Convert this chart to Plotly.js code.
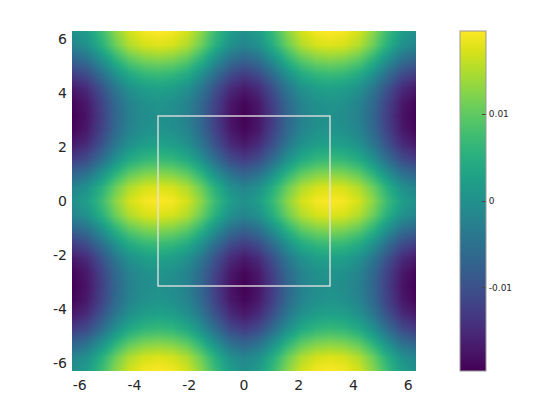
<!DOCTYPE html>
<html>
<head>
<meta charset="utf-8">
<script src="https://cdn.plot.ly/plotly-3.0.1.min.js"></script>
<style>
  html, body { margin: 0; padding: 0; background: #fff; }
</style>
</head>
<body>
<div id="plot" style="width:556px;height:417px;"></div>
<script>
// grid nodes, every pi/6 from -2pi to 2pi
const gridX = [-6.2832, -5.7596, -5.2360, -4.7124, -4.1888, -3.6652, -3.1416, -2.6180, -2.0944,
  -1.5708, -1.0472, -0.5236, 0, 0.5236, 1.0472, 1.5708, 2.0944, 2.6180, 3.1416, 3.6652,
  4.1888, 4.7124, 5.2360, 5.7596, 6.2832]
const gridY = gridX.slice()

// values, one row per y node (bottom to top)
const row0 = [0, 0.0020, 0.0071, 0.0127, 0.0169, 0.0190, 0.0196, 0.0190, 0.0169, 0.0127, 0.0071, 0.0020, 0, 0.0020, 0.0071, 0.0127, 0.0169, 0.0190, 0.0196, 0.0190, 0.0169, 0.0127, 0.0071, 0.0020, 0]
const row1 = [-0.0020, 0, 0.0051, 0.0107, 0.0149, 0.0170, 0.0176, 0.0170, 0.0149, 0.0107, 0.0051, 0, -0.0020, 0, 0.0051, 0.0107, 0.0149, 0.0170, 0.0176, 0.0170, 0.0149, 0.0107, 0.0051, 0, -0.0020]
const row2 = [-0.0071, -0.0051, 0, 0.0056, 0.0098, 0.0119, 0.0125, 0.0119, 0.0098, 0.0056, 0, -0.0051, -0.0071, -0.0051, 0, 0.0056, 0.0098, 0.0119, 0.0125, 0.0119, 0.0098, 0.0056, 0, -0.0051, -0.0071]
const row3 = [-0.0127, -0.0107, -0.0056, 0, 0.0042, 0.0063, 0.0069, 0.0063, 0.0042, 0, -0.0056, -0.0107, -0.0127, -0.0107, -0.0056, 0, 0.0042, 0.0063, 0.0069, 0.0063, 0.0042, 0, -0.0056, -0.0107, -0.0127]
const row4 = [-0.0169, -0.0149, -0.0098, -0.0042, 0, 0.0021, 0.0027, 0.0021, 0, -0.0042, -0.0098, -0.0149, -0.0169, -0.0149, -0.0098, -0.0042, 0, 0.0021, 0.0027, 0.0021, 0, -0.0042, -0.0098, -0.0149, -0.0169]
const row5 = [-0.0190, -0.0170, -0.0119, -0.0063, -0.0021, 0, 0.0006, 0, -0.0021, -0.0063, -0.0119, -0.0170, -0.0190, -0.0170, -0.0119, -0.0063, -0.0021, 0, 0.0006, 0, -0.0021, -0.0063, -0.0119, -0.0170, -0.0190]
const row6 = [-0.0196, -0.0176, -0.0125, -0.0069, -0.0027, -0.0006, 0, -0.0006, -0.0027, -0.0069, -0.0125, -0.0176, -0.0196, -0.0176, -0.0125, -0.0069, -0.0027, -0.0006, 0, -0.0006, -0.0027, -0.0069, -0.0125, -0.0176, -0.0196]
const zRows = [row0, row1, row2, row3, row4, row5, row6, row5, row4, row3, row2, row1, row0,
  row1, row2, row3, row4, row5, row6, row5, row4, row3, row2, row1, row0]

const axisTicks = [-6, -4, -2, 0, 2, 4, 6]
const axisLabels = ["-6", "-4", "-2", "0", "2", "4", "6"]
const cbTicks = [-0.01, 0, 0.01]
const cbLabels = ["-0.01", "0", "0.01"]
const boxCorners = [-3.1416, 3.1416]

const tickFont = { family: "DejaVu Sans", size: 14, color: "#262626" }

const trace = {
  type: "heatmap",
  x: gridX,
  y: gridY,
  z: zRows,
  zsmooth: "best",
  colorscale: "Viridis",
  zmin: -0.0196,
  zmax: 0.0196,
  hoverinfo: "skip",
  colorbar: {
    x: 1.128,
    xanchor: "left",
    y: 0.5,
    yanchor: "middle",
    len: 1,
    lenmode: "fraction",
    thickness: 26,
    xpad: 0,
    ypad: 0,
    outlinewidth: 1,
    outlinecolor: "#999",
    ticks: "inside",
    ticklen: 4,
    tickcolor: "#444",
    tickvals: cbTicks,
    ticktext: cbLabels,
    tickfont: { family: "DejaVu Sans", size: 9, color: "#262626" },
  },
}

const axisBase = {
  range: [-6.2832, 6.2832],
  tickvals: axisTicks,
  ticktext: axisLabels,
  showgrid: false,
  zeroline: false,
  showline: false,
  ticks: "",
  tickfont: tickFont,
  ticklabelstandoff: 4,
}

const layout = {
  width: 556,
  height: 417,
  margin: { l: 72, r: 140, t: 31, b: 46 },
  paper_bgcolor: "#fff",
  plot_bgcolor: "#fff",
  showlegend: false,
  xaxis: { ...axisBase },
  yaxis: { ...axisBase },
  shapes: [
    {
      type: "rect",
      xref: "x",
      yref: "y",
      x0: boxCorners[0],
      x1: boxCorners[1],
      y0: boxCorners[0],
      y1: boxCorners[1],
      line: { color: "rgba(225,225,225,0.9)", width: 1.5 },
    },
  ],
}

Plotly.newPlot("plot", [trace], layout, { displayModeBar: false, staticPlot: true })
</script>
</body>
</html>
